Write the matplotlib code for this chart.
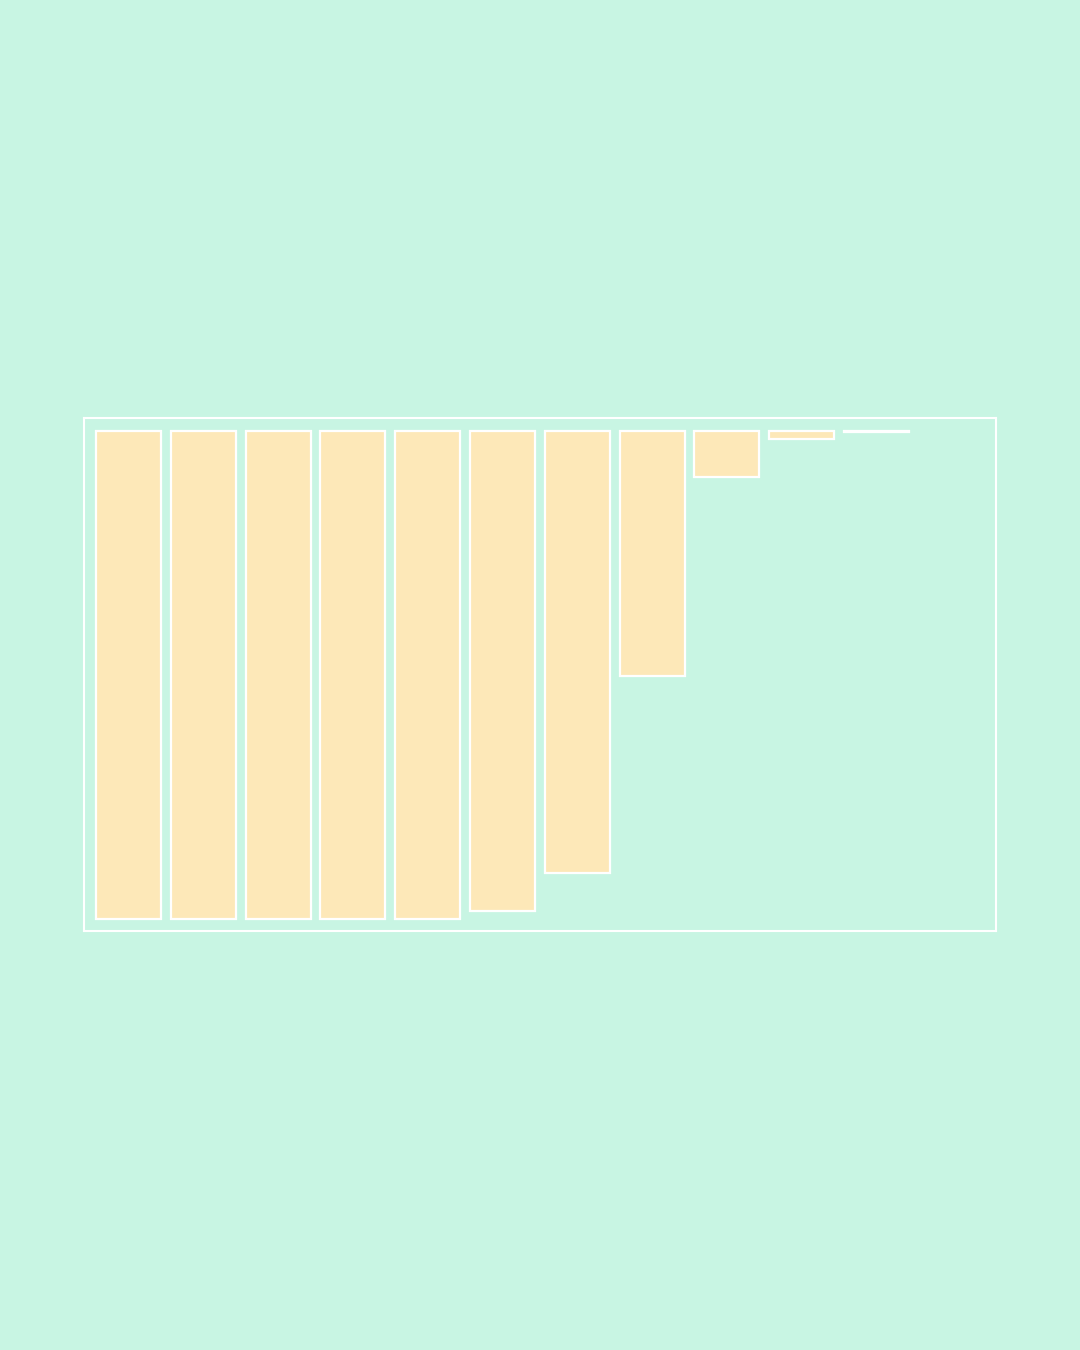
import matplotlib
matplotlib.use("Agg")
import matplotlib.pyplot as plt

categories = list(range(11))
values = [1.0, 1.0, 1.0, 1.0, 1.0, 0.984, 0.906, 0.502, 0.094, 0.016, 0.002]

bg = "#C8F5E3"
bar_color = "#FDE8B8"

fig = plt.figure(figsize=(10.8, 13.5), dpi=100)
fig.patch.set_facecolor(bg)
ax = fig.add_axes([84/1080, 1 - 931/1350, 912/1080, 513/1350])
ax.set_facecolor(bg)

ax.bar(categories, values, width=0.87, color=bar_color, edgecolor="white", linewidth=1.6)

ax.set_xlim(-0.595, 11.597)
ax.set_ylim(1.025, -0.027)
ax.set_xticks([])
ax.set_yticks([])
for s in ax.spines.values():
    s.set_color("white")
    s.set_linewidth(1.5)

fig.savefig("out.png", dpi=100, facecolor=bg)
